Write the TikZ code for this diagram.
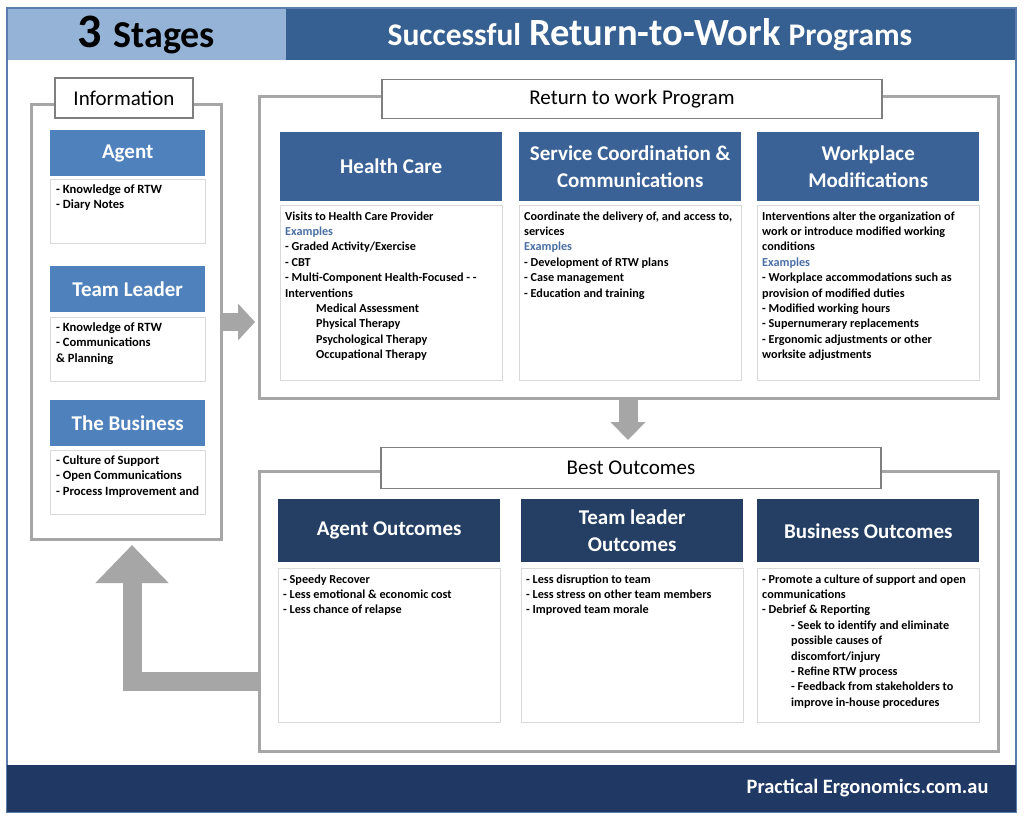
\documentclass[tikz,border=0pt]{standalone}
\usepackage{fontspec}
\setmainfont{Carlito}
\usepackage{xcolor}
\usetikzlibrary{positioning, arrows.meta}

\definecolor{barlight}{HTML}{95B3D7}
\definecolor{bardark}{HTML}{376092}
\definecolor{footnavy}{HTML}{1F3864}
\definecolor{rimblue}{HTML}{5A7DAE}
\definecolor{infoblue}{HTML}{4F81BD}
\definecolor{rtwblue}{HTML}{3A6296}
\definecolor{outblue}{HTML}{243F63}
\definecolor{exblue}{HTML}{4A6FA5}
\definecolor{framegray}{HTML}{A6A6A6}
\definecolor{tagline}{HTML}{7F7F7F}
\definecolor{boxline}{HTML}{D9D9D9}

% text kept at the top of a fixed box
\newcommand{\boxtxt}[3]{\parbox[t][#1][t]{#2}{#3}}
\newcommand{\ex}{{\color{exblue}Examples}}

\begin{document}
\begin{tikzpicture}[
    x=1pt, y=-1pt,
    % big grey frames and their title tags
    frame/.style={draw=framegray, line width=3.2pt, anchor=north west, inner sep=0pt},
    tag/.style={draw=tagline, line width=1.8pt, fill=white, inner sep=0pt,
                font=\fontsize{21}{24}\selectfont},
    % blue headers
    infohead/.style={fill=infoblue, text=white, anchor=north west, inner sep=0pt,
                     minimum width=155pt, minimum height=46pt,
                     font=\bfseries\fontsize{21}{24}\selectfont},
    rtwhead/.style={fill=rtwblue, text=white, anchor=north west, inner sep=0pt, align=center,
                    minimum width=222pt, minimum height=69pt,
                    font=\bfseries\fontsize{21}{27}\selectfont},
    outhead/.style={rtwhead, fill=outblue, minimum height=63pt},
    % white text boxes
    infobody/.style={draw=boxline, fill=white, inner xsep=6pt, inner ysep=5pt,
                     font=\bfseries\fontsize{12.6}{15.5}\selectfont},
    body/.style={draw=boxline, fill=white, inner xsep=5pt, inner ysep=6pt,
                 font=\bfseries\fontsize{12.2}{15.4}\selectfont},
    % fat grey arrows
    bigarrow/.style={draw=framegray, line join=miter}
]
\useasboundingbox (0,0) rectangle (1024,819);
\fill[white] (0,0) rectangle (1024,819);

% title bar, rim and footer
\fill[barlight] (7,8) rectangle (286,60);
\fill[bardark] (286,8) rectangle (1016,60);
\draw[rimblue, line width=1.5pt] (7,8) rectangle (1016,812);
\fill[footnavy] (7,765) rectangle (1016,812);
\node[font=\bfseries] (stages) at (146,35)
    {{\fontsize{48}{50}\selectfont 3}\hspace{12pt}{\fontsize{38}{40}\selectfont Stages}};
\node[font=\bfseries, text=white] (title) at (650,35)
    {{\fontsize{31.5}{34}\selectfont Successful}\hspace{8pt}{\fontsize{38.5}{40}\selectfont Return-to-Work}\hspace{8pt}{\fontsize{31.5}{34}\selectfont Programs}};
\node[font=\bfseries\fontsize{20.4}{24}\selectfont, text=white, anchor=east] (web) at (992,788)
    {Practical Ergonomics.com.au};

% stage 1: information
\node[frame, minimum width=190pt, minimum height=435pt] (info) at (30,103) {};
\node[tag, minimum width=138pt, minimum height=40pt] (infotag) at (124,98) {Information};

\node[infohead] (agent) at (50,130) {Agent};
\node[infobody, below=3pt of agent] (agentb)
    {\boxtxt{54pt}{143pt}{- Knowledge of RTW\\- Diary Notes}};
\node[infohead] (leader) at (50,266) {Team Leader};
\node[infobody, below=5pt of leader] (leaderb)
    {\boxtxt{54pt}{143pt}{- Knowledge of RTW\\- Communications\\\& Planning}};
\node[infohead] (biz) at (50,400) {The Business};
\node[infobody, below=4pt of biz] (bizb)
    {\boxtxt{54pt}{143pt}{- Culture of Support\\- Open Communications\\- Process Improvement and}};

% stage 2: return to work program
\node[frame, minimum width=739pt, minimum height=302pt] (rtw) at (258,95) {};
\node[tag, minimum width=500pt, minimum height=39pt] (rtwtag) at (632,99) {Return to work Program};

\node[rtwhead] (hc) at (280,132) {Health Care};
\node[body, below=4pt of hc] (hcb)
    {\boxtxt{163pt}{212pt}{Visits to Health Care Provider\\\ex\\- Graded Activity/Exercise\\- CBT\\
     - Multi-Component Health-Focused - -\\Interventions\\
     \hspace*{31pt}Medical Assessment\\\hspace*{31pt}Physical Therapy\\
     \hspace*{31pt}Psychological Therapy\\\hspace*{31pt}Occupational Therapy}};
\node[rtwhead] (sc) at (519,132) {Service Coordination \&\\Communications};
\node[body, below=4pt of sc] (scb)
    {\boxtxt{163pt}{212pt}{Coordinate the delivery of, and access to,\\services\\\ex\\
     - Development of RTW plans\\- Case management\\- Education and training}};
\node[rtwhead] (wm) at (757,132) {Workplace\\Modifications};
\node[body, below=4pt of wm] (wmb)
    {\boxtxt{163pt}{212pt}{Interventions alter the organization of\\work or introduce modified working\\
     conditions\\\ex\\- Workplace accommodations such as\\provision of modified duties\\
     - Modified working hours\\- Supernumerary replacements\\
     - Ergonomic adjustments or other\\worksite adjustments}};

% stage 3: best outcomes
\node[frame, minimum width=739pt, minimum height=280pt] (best) at (258,470) {};
\node[tag, minimum width=500pt, minimum height=41pt] (besttag) at (631,468) {Best Outcomes};

\node[outhead] (ao) at (278,499) {Agent Outcomes};
\node[body, below=6pt of ao] (aob)
    {\boxtxt{142pt}{212pt}{- Speedy Recover\\- Less emotional \& economic cost\\- Less chance of relapse}};
\node[outhead] (to) at (521,499) {Team leader\\Outcomes};
\node[body, below=6pt of to] (tob)
    {\boxtxt{142pt}{212pt}{- Less disruption to team\\- Less stress on other team members\\- Improved team morale}};
\node[outhead] (bo) at (757,499) {Business Outcomes};
\node[body, below=6pt of bo] (bob)
    {\boxtxt{142pt}{212pt}{- Promote a culture of support and open\\communications\\- Debrief \& Reporting\\
     \hspace*{29pt}- Seek to identify and eliminate\\\hspace*{29pt}possible causes of\\
     \hspace*{29pt}discomfort/injury\\\hspace*{29pt}- Refine RTW process\\
     \hspace*{29pt}- Feedback from stakeholders to\\\hspace*{29pt}improve in-house procedures}};

% arrows between the stages
\coordinate (rtip) at (255,322);
\coordinate (dtip) at (628,440);
\coordinate (lbend) at (132,681);
\coordinate (ltip) at (132,545);
\draw[bigarrow, line width=18pt, -{Triangle[width=36pt, length=17pt]}] (info.east |- rtip) -- (rtip);
\draw[bigarrow, line width=19pt, -{Triangle[width=34pt, length=18pt]}] (rtw.south -| dtip) -- (dtip);
\draw[bigarrow, line width=19pt, -{Triangle[width=71pt, length=38pt]}] (best.west |- lbend) -- (lbend) -- (ltip);

\end{tikzpicture}
\end{document}
